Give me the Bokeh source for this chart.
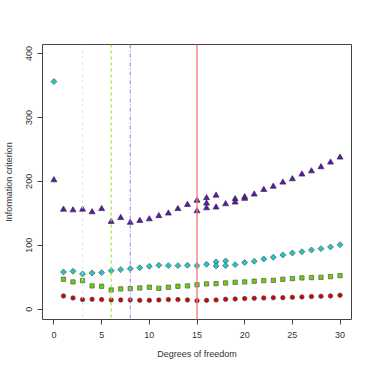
import math
from bokeh.plotting import figure
from bokeh.models import Span, FixedTicker
from bokeh.embed import file_html
from bokeh.resources import INLINE

# Data
red_x = list(range(1, 31))
red_y = [20.8, 17.7, 15.1, 15.6, 15.1, 14.6, 14.6, 14.6, 14.0, 14.0,
         14.6, 15.1, 15.1, 14.6, 13.5, 14.0, 14.6, 15.6, 16.1, 16.7,
         17.2, 17.7, 18.2, 18.2, 18.8, 19.3, 19.8, 20.3, 20.8, 21.9]

green_x = list(range(1, 31))
green_y = [46.9, 42.7, 44.8, 36.5, 36.0, 30.2, 31.8, 32.3, 33.3, 34.4,
           32.8, 34.4, 36.0, 36.5, 38.3, 39.6, 40.1, 41.1, 42.2, 42.7,
           43.8, 44.8, 45.3, 46.9, 48.0, 49.0, 49.5, 50.0, 51.0, 52.6]

cyan_x = [0, 1, 2, 3, 4, 5, 6, 7, 8, 9, 10, 11, 12, 13, 14, 15, 16, 17, 17,
          18, 18, 19, 20, 21, 22, 23, 24, 25, 26, 27, 28, 29, 30]
cyan_y = [356, 58.3, 59.4, 55.2, 56.8, 57.3, 60.4, 62.0, 63.5, 65.0, 67.2,
          68.8, 68.2, 68.2, 68.8, 68.2, 70.3, 74.0, 67.7, 75.5, 68.2, 69.8,
          73.0, 75.0, 78.6, 81.3, 84.9, 88.0, 90.0, 92.7, 94.8, 97.4, 101.0]

purple_x = [0, 1, 2, 3, 4, 5, 6, 7, 8, 9, 10, 11, 12, 13, 14, 15, 15,
            16, 16, 16, 17, 17, 18, 19, 19, 20, 20, 21, 22, 23, 24, 25,
            26, 27, 28, 29, 30]
purple_y = [202, 156, 155, 156, 152, 157, 137, 143, 135.5, 138.5, 141, 146,
            150, 157, 163.5, 170, 153.6, 174, 165.6, 158.3, 178, 159.4,
            164.6, 172.4, 167.2, 175.5, 173, 179.7, 187, 192, 198.4, 203.6,
            211, 216, 222.4, 229.7, 237.5]

vline_x = [3, 6, 8, 15]
vline_colors = ["#A8F2F2", "#9BEA2E", "#B08CF0", "#F47C7C"]
vline_dash = ["dotted", "3 3", "4 2 1 2", "solid"]
vline_width = [1, 1.2, 1.2, 1.4]

x_ticks = [0, 5, 10, 15, 20, 25, 30]
y_ticks = [0, 100, 200, 300, 400]

FONT = "Liberation Sans"

p = figure(frame_width=309, frame_height=275, output_backend="svg",
           toolbar_location=None,
           x_range=(-1.2, 31.2), y_range=(-16, 414),
           min_border_left=42, min_border_right=6, min_border_top=44,
           min_border_bottom=30)

p.xgrid.visible = False
p.ygrid.visible = False
p.outline_line_color = "#444444"
p.outline_line_width = 1
p.background_fill_color = "white"
p.border_fill_color = "white"

for x, c, d, w in zip(vline_x, vline_colors, vline_dash, vline_width):
    p.add_layout(Span(location=x, dimension="height", line_color=c,
                      line_dash=d, line_width=w))

p.scatter(red_x, red_y, marker="circle", size=4.5, fill_color="#D40000",
          line_color="#555555", line_width=0.7)
p.scatter(green_x, green_y, marker="square", size=4.3, fill_color="#6FD200",
          line_color="#555555", line_width=0.7)
p.scatter(cyan_x, cyan_y, marker="square", angle=math.pi / 4, size=4.2,
          fill_color="#1CC9C9", line_color="#555555", line_width=0.7)
p.scatter(purple_x, purple_y, marker="triangle", size=6, fill_color="#5E12C4",
          line_color="#333333", line_width=0.7)

for ax in (p.xaxis[0], p.yaxis[0]):
    ax.axis_line_color = None
    ax.major_tick_line_color = "#444444"
    ax.minor_tick_line_color = None
    ax.major_tick_out = 5
    ax.major_tick_in = 0
    ax.major_label_text_font = FONT
    ax.major_label_text_font_size = "9px"
    ax.major_label_text_color = "#333333"
    ax.axis_label_text_font = FONT
    ax.axis_label_text_font_size = "9px"
    ax.axis_label_text_font_style = "normal"
    ax.axis_label_text_color = "#333333"

p.xaxis[0].ticker = FixedTicker(ticks=x_ticks)
p.yaxis[0].ticker = FixedTicker(ticks=y_ticks)
p.xaxis[0].axis_label = "Degrees of freedom"
p.yaxis[0].axis_label = "Information criterion"
p.xaxis[0].major_label_standoff = 7
p.xaxis[0].axis_label_standoff = 8
p.yaxis[0].major_label_orientation = "vertical"
p.yaxis[0].major_label_standoff = 5
p.yaxis[0].axis_label_standoff = 10

open("out.html", "w").write(file_html(p, INLINE))
